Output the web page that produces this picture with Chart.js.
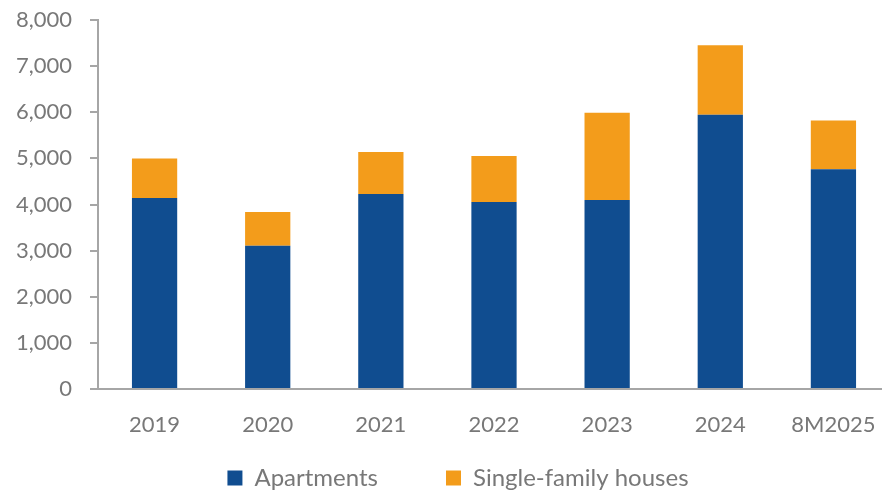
<!DOCTYPE html>
<html>
<head>
<meta charset="utf-8">
<script src="https://cdn.jsdelivr.net/npm/chart.js@4/dist/chart.umd.min.js"></script>
<style>
  html, body { margin: 0; padding: 0; overflow: hidden; background: #ffffff; }
  #wrap { position: absolute; left: 0; top: 0; }
</style>
</head>
<body>
<div id="wrap"><canvas id="c" width="890" height="500"></canvas></div>
<script>
const categories = ["2019", "2020", "2021", "2022", "2023", "2024", "8M2025"];
const apartments = [4140, 3105, 4230, 4055, 4100, 5945, 4765];
const singleFamily = [860, 735, 910, 995, 1890, 1510, 1055];
const seriesNames = ["Apartments", "Single-family houses"];
const yTicks = [0, 1000, 2000, 3000, 4000, 5000, 6000, 7000, 8000];

const labelColor = "#787878";
const axisColor = "#A6A6A6";
const fontFamily = "Lato, 'Open Sans', sans-serif";

function noClip(s) { s._computeLabelArea = () => undefined; }

new Chart(document.getElementById("c"), {
  type: "bar",
  data: {
    labels: categories,
    datasets: [
      { label: seriesNames[0], data: apartments, backgroundColor: "#104D90", borderWidth: 0,
        barPercentage: 0.4, categoryPercentage: 1.0 },
      { label: seriesNames[1], data: singleFamily, backgroundColor: "#F39C1B", borderWidth: 0,
        barPercentage: 0.4, categoryPercentage: 1.0 }
    ]
  },
  options: {
    responsive: false,
    animation: false,
    devicePixelRatio: 1,
    layout: { padding: { top: 20, left: 26, right: 0, bottom: 0 } },
    plugins: {
      legend: {
        position: "bottom",
        labels: {
          boxWidth: 15, boxHeight: 15, padding: 68,
          color: labelColor,
          font: { family: fontFamily, size: 24 }
        }
      },
      tooltip: { enabled: false }
    },
    scales: {
      x: {
        stacked: true,
        grid: { display: true, drawOnChartArea: false, drawTicks: false, color: axisColor },
        border: { display: true, color: axisColor, width: 2 },
        ticks: { color: labelColor, font: { family: fontFamily, size: 22 }, padding: 23, maxRotation: 0 },
        afterFit: (s) => { s.height = 9; s.paddingLeft = 0; s.paddingRight = 0; noClip(s); }
      },
      y: {
        stacked: true,
        min: 0, max: 8000,
        afterBuildTicks: (s) => { s.ticks = yTicks.map(v => ({ value: v })); },
        grid: { display: true, drawOnChartArea: false, drawTicks: true, tickLength: 8, color: axisColor, lineWidth: 2 },
        border: { display: true, color: axisColor, width: 2 },
        ticks: {
          color: labelColor, font: { family: fontFamily, size: 22 }, padding: 18,
          callback: (v) => Number(v).toLocaleString("en-US")
        },
        afterFit: (s) => { s.width = 72; s.paddingTop = 0; s.paddingBottom = 0; noClip(s); }
      }
    }
  }
});
</script>
</body>
</html>
